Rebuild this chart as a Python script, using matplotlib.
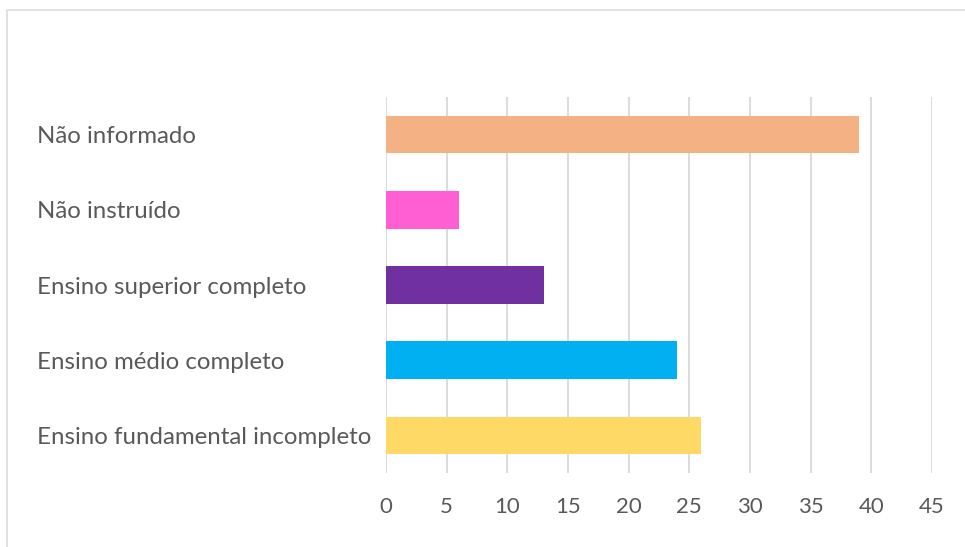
import matplotlib.pyplot as plt
from matplotlib.patches import Rectangle

categories = ["Não informado", "Não instruído", "Ensino superior completo",
              "Ensino médio completo", "Ensino fundamental incompleto"]
values = [39, 6, 13, 24, 26]
colors = ["#F4B183", "#FF5FD2", "#7030A0", "#00B0F0", "#FFD966"]
xticks = [0, 5, 10, 15, 20, 25, 30, 35, 40, 45]

W, H = 965, 547
fig = plt.figure(figsize=(W / 100, H / 100), dpi=100)
plt.rcParams["font.family"] = ["Lato", "DejaVu Sans"]

# light frame around the chart area
fig.patches.append(Rectangle((7 / W, -0.05), 1.1, 1 - 10 / H + 0.05,
                             transform=fig.transFigure, fill=False,
                             edgecolor="#DDDDDD", linewidth=1.2))

ax = fig.add_axes([386 / W, 1 - 473 / H, (932 - 386) / W, (473 - 97) / H])

y = list(range(len(categories)))
ax.barh(y, values, height=0.5, color=colors, zorder=3)
ax.set_ylim(len(categories) - 0.5, -0.5)
ax.set_xlim(0, 45)

ax.set_xticks(xticks)
ax.set_xticklabels([str(t) for t in xticks])
ax.set_yticks(y)
ax.set_yticklabels(categories)

ax.grid(axis="x", color="#D9D9D9", linewidth=1.3, zorder=0)
for s in ax.spines.values():
    s.set_visible(False)

ax.tick_params(axis="x", length=0, pad=17, labelsize=16, labelcolor="#595959")
ax.tick_params(axis="y", length=0, pad=(386 - 37) * 0.72, labelsize=17.3,
               labelcolor="#595959")
for lbl in ax.get_yticklabels():
    lbl.set_ha("left")

fig.savefig("out.png", dpi=100)
